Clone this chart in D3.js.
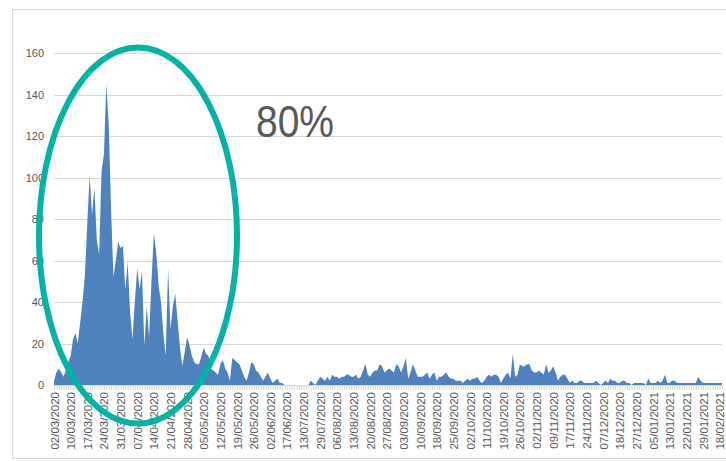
<!DOCTYPE html>
<html>
<head>
<meta charset="utf-8">
<script src="https://cdn.jsdelivr.net/npm/d3@7"></script>
<style>
  html, body { margin: 0; padding: 0; background: #ffffff; }
  svg { display: block; }
</style>
</head>
<body>
<svg id="chart" width="726" height="461"></svg>
<script>
// Daily counts, one value per reporting day (category axis)
const values = [
  2, 6, 8, 6, 4, 7, 11, 14, 22, 25,
  20, 30, 40, 53, 78, 101, 82, 95, 70, 63,
  103, 111, 145, 126, 85, 52, 60, 69, 66, 67,
  46, 59, 35, 22, 40, 56, 46, 55, 19, 38,
  23, 50, 73, 64, 48, 40, 25, 14, 56, 27,
  38, 44, 31, 18, 9, 16, 23, 19, 14, 11,
  10, 10, 14, 18, 15, 14, 8, 7, 6, 5,
  10, 12, 8, 6, 2, 13, 12, 11, 10, 7,
  4, 2, 6, 11, 10, 7, 6, 4, 2, 4,
  6, 3, 1, 2, 3, 1, 1, 0, 0, 0,
  0, 0, 0, 0, 0, 0, 0, 0, 2, 1,
  0, 2, 4, 3, 2, 4, 2, 5, 4, 4,
  3, 4, 4, 5, 5, 4, 4, 5, 3, 4,
  7, 10, 5, 4, 6, 7, 7, 10, 9, 6,
  7, 8, 7, 6, 10, 9, 6, 9, 13, 3,
  6, 10, 7, 4, 4, 4, 5, 6, 3, 5,
  6, 2, 4, 4, 5, 6, 4, 3, 3, 2,
  2, 2, 1, 2, 3, 2, 3, 3, 4, 2,
  1, 2, 4, 5, 4, 5, 5, 4, 1, 3,
  5, 6, 3, 15, 4, 5, 10, 9, 9, 10,
  10, 7, 6, 6, 7, 6, 5, 10, 6, 7,
  9, 6, 2, 4, 5, 5, 3, 1, 2, 1,
  1, 2, 2, 1, 1, 1, 1, 1, 2, 1,
  0, 1, 2, 1, 3, 2, 2, 1, 1, 2,
  2, 1, 1, 0, 1, 1, 1, 1, 1, 0,
  3, 1, 1, 1, 2, 1, 2, 5, 1, 1,
  2, 2, 1, 1, 1, 1, 1, 1, 1, 1,
  1, 4, 2, 1, 1, 1, 1, 1, 1, 1,
  1, 1
];

// Date labels shown on every 7th category
const tickLabels = [
  "02/03/2020", "10/03/2020", "17/03/2020", "24/03/2020", "31/03/2020",
  "07/04/2020", "14/04/2020", "21/04/2020", "28/04/2020", "05/05/2020",
  "12/05/2020", "19/05/2020", "26/05/2020", "02/06/2020", "17/06/2020",
  "13/07/2020", "29/07/2020", "06/08/2020", "13/08/2020", "20/08/2020",
  "27/08/2020", "03/09/2020", "10/09/2020", "18/09/2020", "25/09/2020",
  "02/10/2020", "11/10/2020", "19/10/2020", "26/10/2020", "02/11/2020",
  "09/11/2020", "17/11/2020", "24/11/2020", "07/12/2020", "18/12/2020",
  "27/12/2020", "05/01/2021", "13/01/2021", "22/01/2021", "29/01/2021",
  "18/02/2021"
];
const labelEvery = 7;

const yTicks = [0, 20, 40, 60, 80, 100, 120, 140, 160];
const calloutText = "80%";

const svg = d3.select("#chart");
const plot = { left: 54, right: 722, top: 53, bottom: 385 };

// chart frame
svg.append("rect")
  .attr("x", 12.5).attr("y", 9.5)
  .attr("width", 730).attr("height", 449)
  .attr("fill", "none").attr("stroke", "#d9d9d9").attr("stroke-width", 1);

const idx = d3.range(values.length);
const x = d3.scalePoint().domain(idx).range([plot.left, plot.right]);
const y = d3.scaleLinear().domain([0, 160]).range([plot.bottom, plot.top]);

// horizontal gridlines
svg.append("g").selectAll("line")
  .data(yTicks.filter(t => t > 0))
  .join("line")
  .attr("x1", plot.left).attr("x2", plot.right)
  .attr("y1", d => Math.round(y(d)) + 0.5).attr("y2", d => Math.round(y(d)) + 0.5)
  .attr("stroke", "#d9d9d9").attr("stroke-width", 1);

// y axis labels
const yAxis = d3.axisLeft(y).tickValues(yTicks).tickSize(0).tickPadding(10);
const gy = svg.append("g").attr("transform", `translate(${plot.left},0)`).call(yAxis);
gy.select(".domain").remove();
gy.selectAll("text")
  .attr("font-family", "Liberation Sans, Arial, sans-serif")
  .attr("font-size", 11)
  .attr("fill", "#595959");

// area
const area = d3.area()
  .x(d => x(d))
  .y0(y(0))
  .y1(d => y(values[d]));
svg.append("path")
  .datum(idx)
  .attr("d", area)
  .attr("fill", "#4f81bd");

// category axis with a tick per category and a label every 7th
const xAxis = d3.axisBottom(x)
  .tickValues(idx)
  .tickSize(5)
  .tickFormat(d => (d % labelEvery === 0 ? tickLabels[d / labelEvery] || "" : ""));
const gx = svg.append("g").attr("transform", `translate(0,${plot.bottom})`).call(xAxis);
gx.select(".domain").attr("stroke", "#d9d9d9").attr("d", `M${plot.left},0.5H${plot.right}`);
gx.selectAll(".tick line").attr("stroke", "#d9d9d9");
gx.selectAll(".tick text")
  .attr("font-family", "Liberation Sans, Arial, sans-serif")
  .attr("font-size", 11.5)
  .attr("fill", "#595959")
  .attr("text-anchor", "end")
  .attr("dy", "0.35em")
  .attr("transform", "translate(0,7) rotate(-90)")
  .attr("x", 0).attr("y", 0);

// highlight ellipse around the spring wave
svg.append("ellipse")
  .attr("cx", 138).attr("cy", 235.5)
  .attr("rx", 99).attr("ry", 188)
  .attr("fill", "none")
  .attr("stroke", "#00b3a3")
  .attr("stroke-width", 6);

// callout
svg.append("text")
  .attr("x", 256).attr("y", 137)
  .attr("font-family", "Liberation Sans, Arial, sans-serif")
  .attr("font-size", 45)
  .attr("textLength", 78)
  .attr("lengthAdjust", "spacingAndGlyphs")
  .attr("fill", "#595959")
  .text(calloutText);
</script>
</body>
</html>
